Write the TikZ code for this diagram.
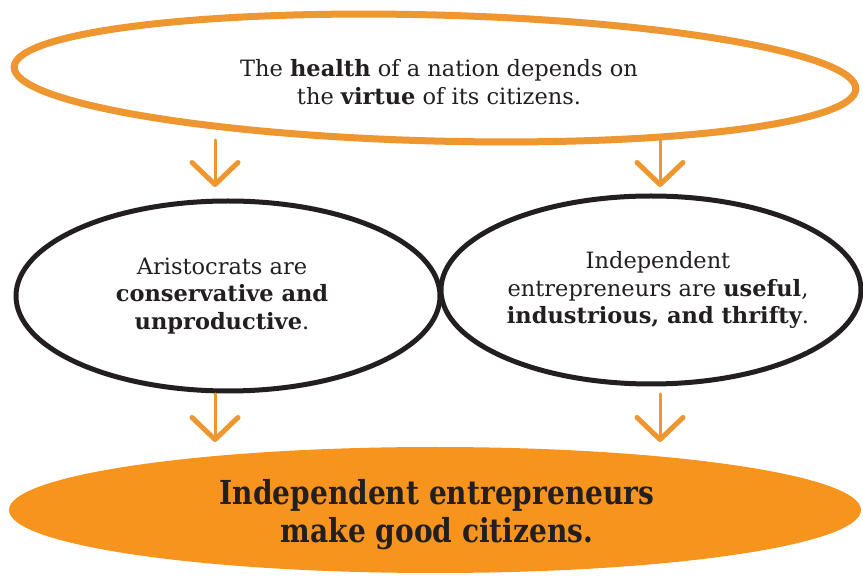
\documentclass[tikz,border=0pt]{standalone}
\usepackage{fontspec}
\setmainfont{DejaVu Serif}
\newfontfamily\bigfont[FakeStretch=0.85]{DejaVu Serif}
\usetikzlibrary{arrows.meta}
\definecolor{orng}{HTML}{EE962F}
\definecolor{ofill}{HTML}{F7941D}
\definecolor{ink}{HTML}{231F20}
\begin{document}
\begin{tikzpicture}[x=1pt,y=1pt,
 txt/.style={align=center,font=\fontsize{22.5}{27.5}\selectfont,text=ink},
 big/.style={align=center,font=\bigfont\fontsize{33}{38}\selectfont\bfseries,text=ink},
 arr/.style={draw=orng,line width=3pt,line cap=round,-{Straight Barb[length=22pt,width=46pt,line width=5pt,round]}}]
\useasboundingbox (0,0) rectangle (863,576);
\fill[white] (0,0) rectangle (863,576);
% top ellipse
\draw[orng,line width=7pt,rotate around={-1.5:(435,498)}] (435,498) ellipse [x radius=421,y radius=63];
\node[txt] (top) at (439,494) {The \textbf{health} of a nation depends on\\the \textbf{virtue} of its citizens.};
% middle ellipses
\draw[ink,line width=5pt] (228,280) ellipse [x radius=212,y radius=95];
\node[txt] (left) at (222,280) {Aristocrats are\\\textbf{conservative and}\\\textbf{unproductive}.};
\draw[ink,line width=5pt] (651,286) ellipse [x radius=210,y radius=94];
\node[txt] (right) at (658,286) {Independent\\entrepreneurs are \textbf{useful},\\\textbf{industrious, and thrifty}.};
% bottom ellipse
\fill[ofill] (435,66) ellipse [x radius=426,y radius=63];
\node[big] (bottom) at (437,61) {Independent entrepreneurs\\make good citizens.};
% arrows
\coordinate (a1s) at (215,436); \coordinate (a1e) at (215,389);
\coordinate (a2s) at (660,436); \coordinate (a2e) at (660,389);
\coordinate (a3s) at (215,182); \coordinate (a3e) at (215,134);
\coordinate (a4s) at (660,182); \coordinate (a4e) at (660,134);
\draw[arr] (a1s) -- (a1e);
\draw[arr] (a2s) -- (a2e);
\draw[arr] (a3s) -- (a3e);
\draw[arr] (a4s) -- (a4e);
\end{tikzpicture}
\end{document}
